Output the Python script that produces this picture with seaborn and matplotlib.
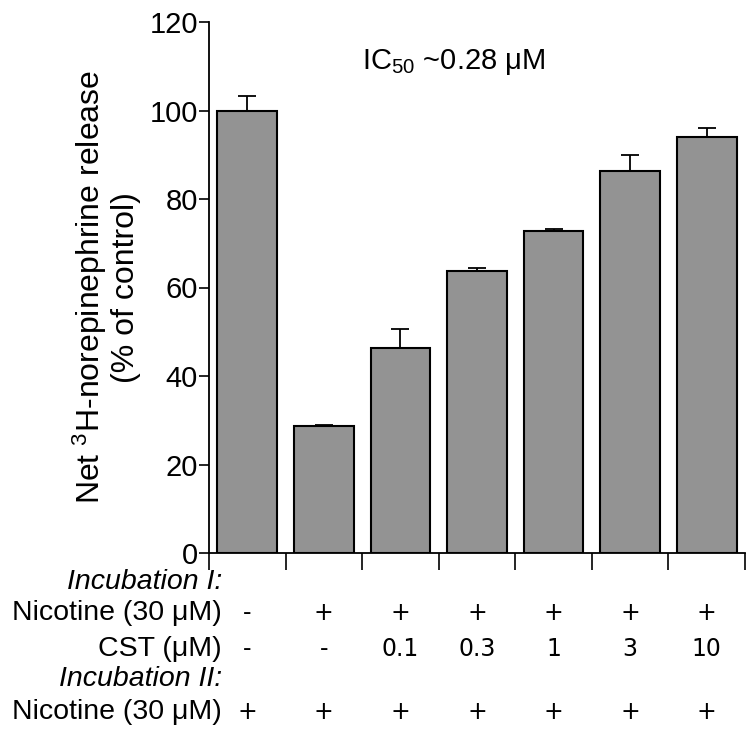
import numpy as np
import pandas as pd
import matplotlib
matplotlib.use("Agg")
import matplotlib.pyplot as plt
import matplotlib.transforms as mtransforms
import seaborn as sns

# ── Data ──────────────────────────────────────────────────────────────────────
conditions = ["ctrl", "nic", "cst0.1", "cst0.3", "cst1", "cst3", "cst10"]
release    = [99.8, 28.6, 46.3, 63.7, 72.8, 86.3, 94.0]
sem        = [3.5, 0.4, 4.4, 0.8, 0.5, 3.7, 2.0]

inc1_nicotine = ["-", "+", "+", "+", "+", "+", "+"]
cst_conc      = ["-", "-", "0.1", "0.3", "1", "3", "10"]
inc2_nicotine = ["+", "+", "+", "+", "+", "+", "+"]

y_ticks = [0, 20, 40, 60, 80, 100, 120]

df = pd.DataFrame({"condition": conditions, "release": release, "sem": sem})

# ── Style ─────────────────────────────────────────────────────────────────────
sns.set_theme(style="ticks")
plt.rcParams["font.family"] = ["Liberation Sans", "DejaVu Sans"]
plt.rcParams["mathtext.fontset"] = "custom"
plt.rcParams["mathtext.rm"] = "Liberation Sans"
plt.rcParams["mathtext.it"] = "Liberation Sans:italic"
plt.rcParams["text.color"] = "black"
plt.rcParams["axes.labelcolor"] = "black"

W, H = 751, 731
fig = plt.figure(figsize=(W / 100, H / 100), dpi=100)
ax = fig.add_axes([209 / W, 1 - 553 / H, (745 - 209) / W, (553 - 22) / H])

sns.barplot(data=df, x="condition", y="release", color="#939393",
            edgecolor="black", linewidth=1.5, width=0.78, saturation=1,
            errorbar=None, ax=ax)

# upper-only error bars
ax.errorbar(np.arange(len(conditions)), df["release"],
            yerr=[np.zeros(len(sem)), df["sem"]], fmt="none",
            ecolor="black", elinewidth=1.3, capsize=6.5, capthick=1.3)

ax.set_xlim(-0.5, len(conditions) - 0.5)
ax.set_ylim(0, 120)
ax.set_yticks(y_ticks)
ax.tick_params(axis="y", labelsize=21, length=7, width=1.2, pad=1, colors="black")
ax.set_xticks(np.arange(len(conditions) + 1) - 0.5)
ax.set_xticklabels([])
ax.tick_params(axis="x", length=12, width=1.2, colors="black")
for s in ["top", "right"]:
    ax.spines[s].set_visible(False)
for s in ["left", "bottom"]:
    ax.spines[s].set_linewidth(1.3)
    ax.spines[s].set_color("black")

ax.set_xlabel("")
ax.set_ylabel("Net $^{3}$H-norepinephrine release\n(% of control)",
              fontsize=23, labelpad=6, linespacing=1.1)

ax.text(2.7, 111, "IC$_{50}$ ~0.28 μM", fontsize=21, ha="center", va="center")

# ── Treatment table below the axis ────────────────────────────────────────────
trans = mtransforms.blended_transform_factory(ax.transData, fig.transFigure)
label_x = 222 / W
rows = [
    (582, "Incubation I:", None, True),
    (613, "Nicotine (30 μM)", inc1_nicotine, False),
    (649, "CST (μM)", cst_conc, False),
    (679, "Incubation II:", None, True),
    (712, "Nicotine (30 μM)", inc2_nicotine, False),
]
for ypx, label, vals, italic in rows:
    fy = 1 - ypx / H
    fig.text(label_x, fy, label, fontsize=20.5, ha="right", va="center",
             style="italic" if italic else "normal")
    if vals is not None:
        for i, v in enumerate(vals):
            ax.text(i, fy, v, transform=trans, fontsize=17, ha="center",
                    va="center", family="DejaVu Sans", clip_on=False)

fig.savefig("out.png", dpi=100)
